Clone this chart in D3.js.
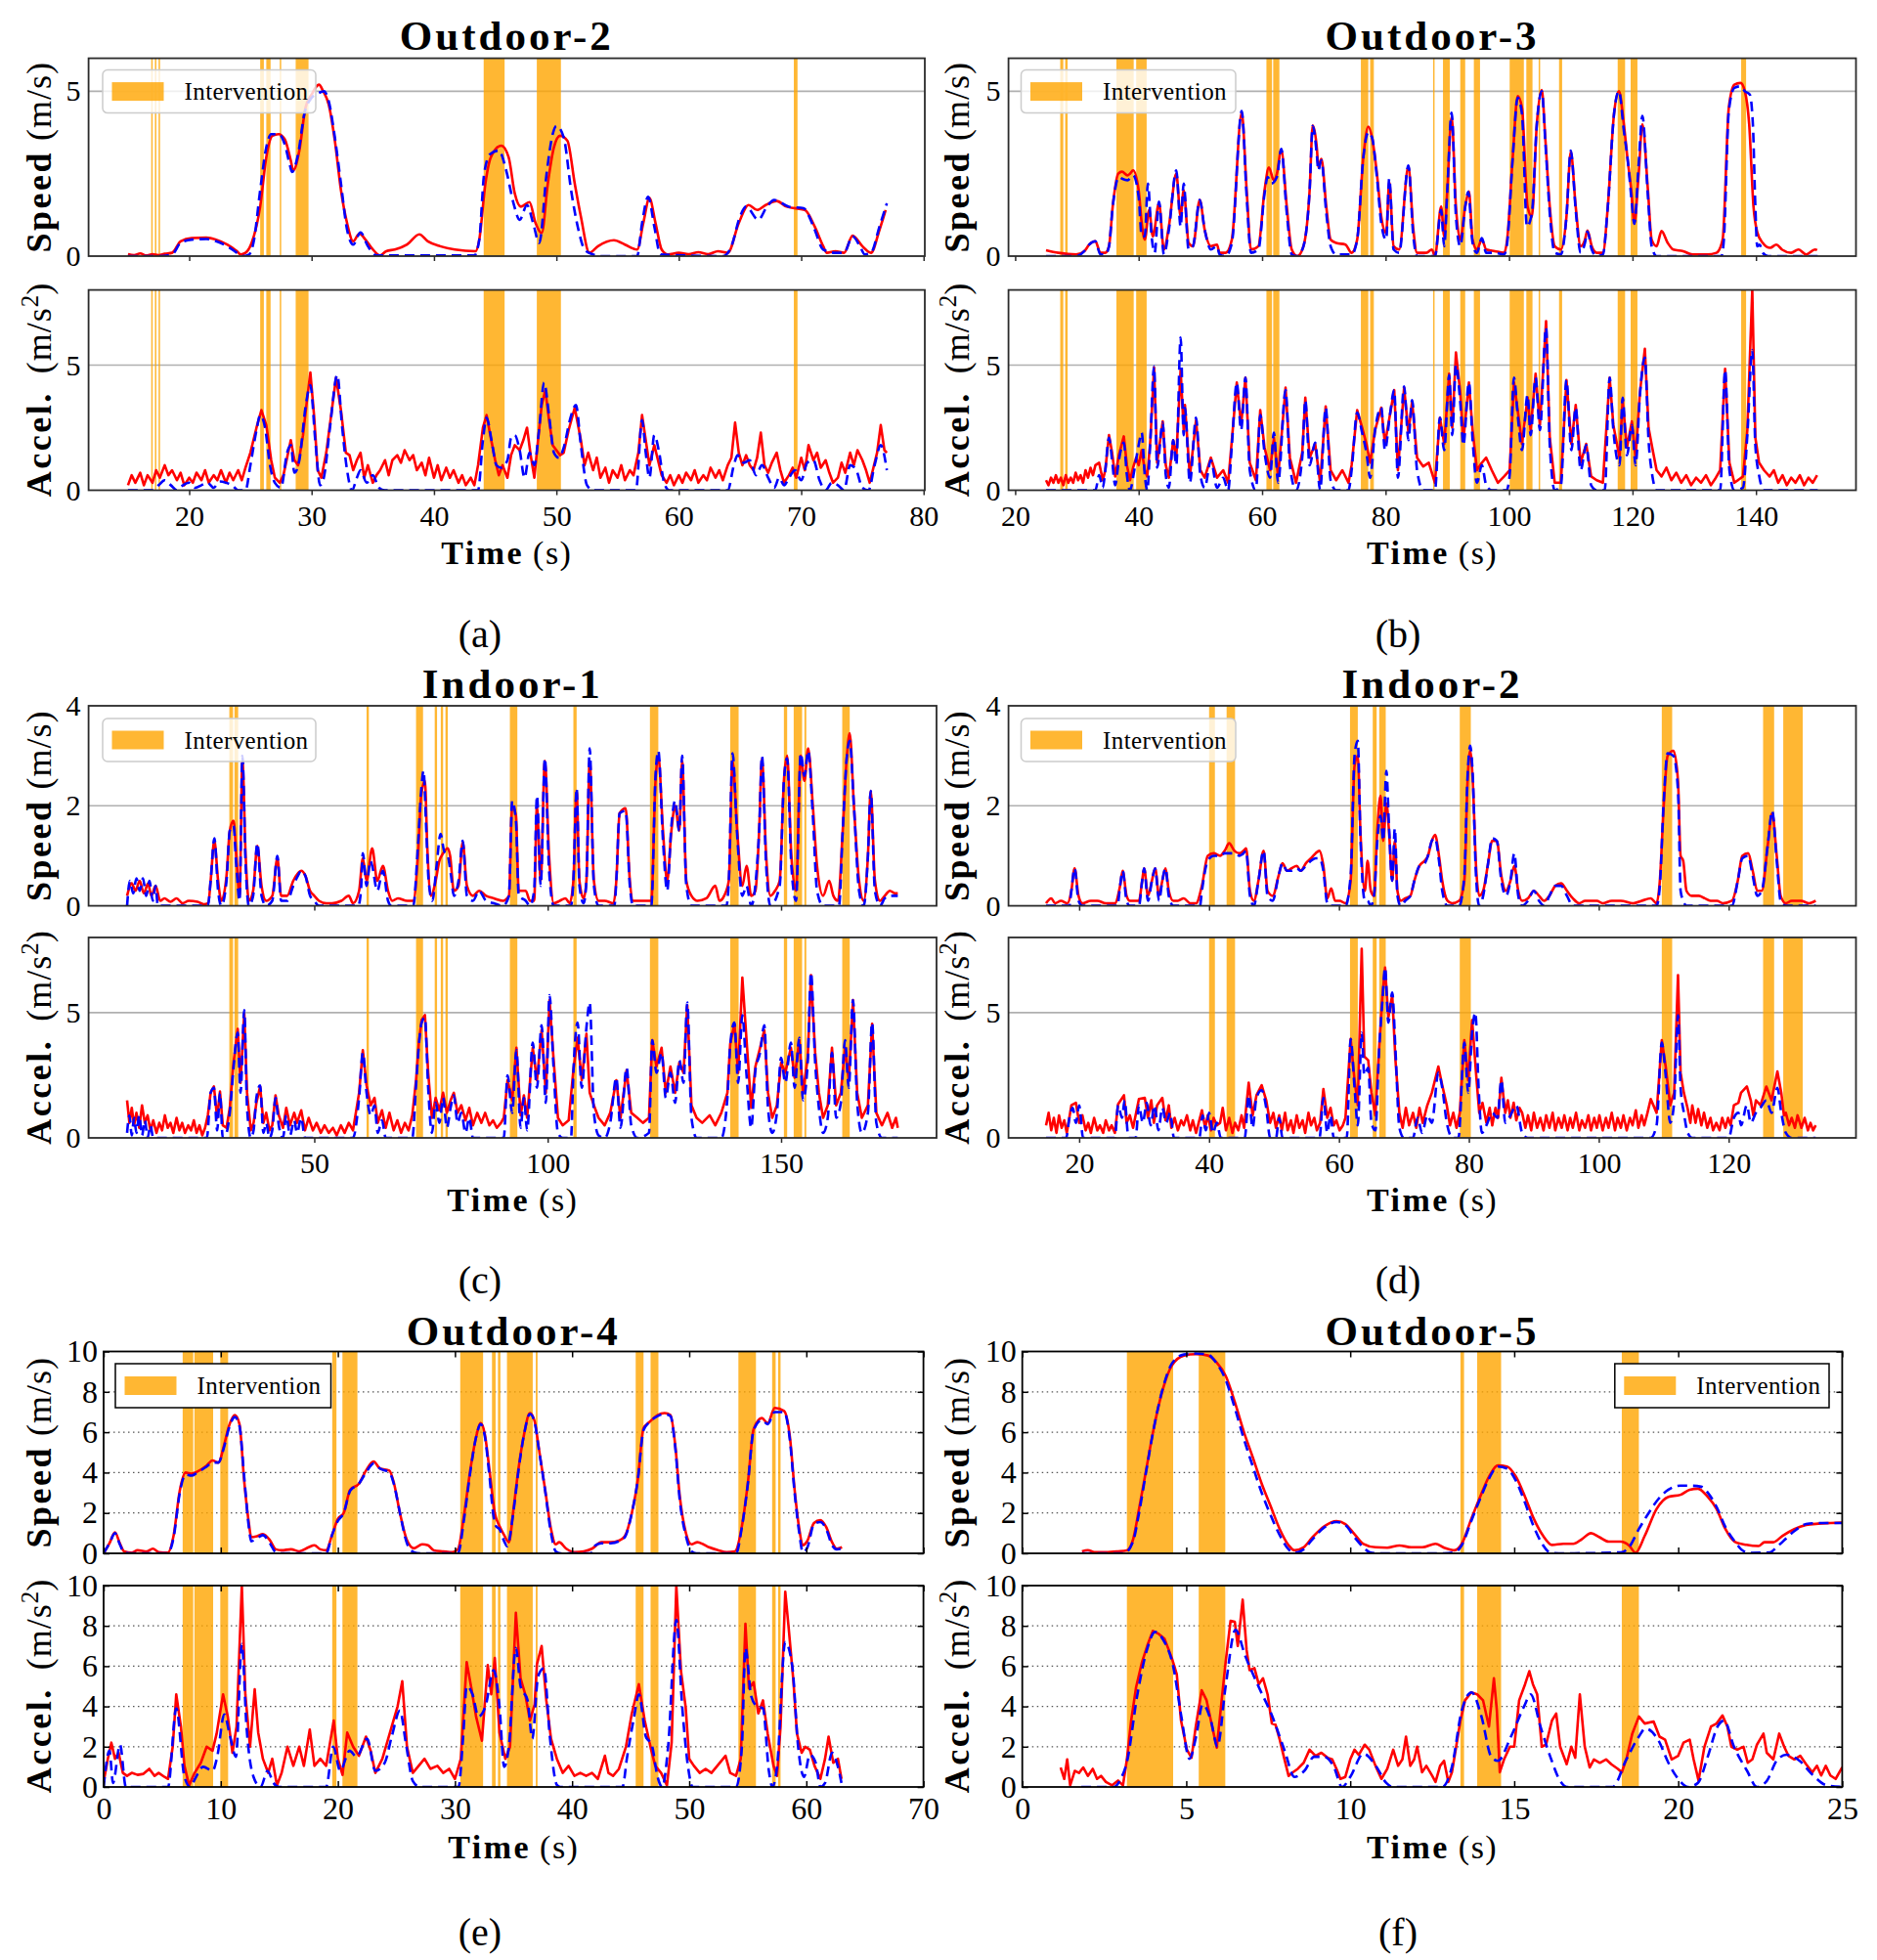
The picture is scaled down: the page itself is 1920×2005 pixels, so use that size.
<!DOCTYPE html>
<html>
<head>
<meta charset="utf-8">
<script src="https://cdn.jsdelivr.net/npm/d3@7"></script>
<style>
  body { margin: 0; background: #fff; }
</style>
</head>
<body>
<svg id="fig" width="1920" height="2005"></svg>
<script>
// ---------- data: intervention windows [start, end] in seconds ----------
const a_int = [[16.9,17.0],[17.2,17.3],[17.5,17.6],[25.8,26.1],[26.3,26.65],[27.4,27.48],[28.7,29.75],[44.06,45.77],[48.4,50.37],[69.4,69.7]];
const b_int = [[27.3,27.8],[28.1,28.5],[36.4,39.2],[39.6,41.3],[60.7,61.6],[61.8,62.8],[76.0,77.2],[77.5,78.1],[87.7,87.85],[89.3,90.4],[92.1,92.9],[94.3,95.3],[100.1,102.4],[102.8,103.8],[104.8,104.95],[108.1,108.6],[117.6,118.8],[119.7,120.8],[137.6,138.4]];
const c_int = [[31.8,32.6],[32.9,33.7],[61.2,61.7],[71.8,73.3],[75.8,76.3],[77.1,77.6],[78.1,78.6],[91.9,93.5],[105.5,106.2],[121.9,123.7],[139.1,140.9],[150.6,151.3],[152.7,154.5],[155.0,155.4],[163.1,164.7]];
const d_int = [[40.0,40.9],[42.7,44.0],[61.7,62.9],[65.2,65.8],[66.2,67.2],[78.6,80.3],[109.7,111.3],[125.3,127.0],[128.4,131.4]];
const e_int = [[6.75,7.65],[7.75,9.35],[9.96,10.63],[19.52,19.88],[20.39,21.67],[30.45,32.4],[33.16,33.47],[33.67,33.88],[34.44,36.64],[36.9,37.05],[45.43,46.1],[46.7,47.37],[54.2,55.7],[57.08,57.38],[57.59,57.8]];
const f_int = [[3.19,4.6],[5.38,6.19],[13.36,13.47],[13.87,14.6],[18.28,18.8]];

// ---------- Outdoor-2 ----------
const a_spdRed = [[15,0.06],[15.5,0.03],[16,0.08],[16.5,0.02],[17,0.06],[17.5,0.03],[18,0.07],[18.6,0.1],[19.3,0.45],[20.2,0.55],[21.4,0.56],[22.2,0.5],[23.1,0.35],[23.9,0.15],[24.2,0.05],[24.6,0.1],[25.1,0.4],[25.8,1.5],[26.3,3.0],[26.8,3.65],[27.3,3.7],[27.8,3.55],[28.3,2.9],[28.5,2.6],[29.0,3.2],[29.5,4.5],[30.0,4.9],[30.6,5.2],[30.95,5.0],[31.4,4.6],[31.9,3.5],[32.4,2.0],[32.9,1.0],[33.4,0.45],[33.9,0.68],[34.4,0.5],[34.9,0.25],[35.6,0.02],[36.1,0.15],[36.8,0.2],[37.8,0.35],[38.8,0.66],[39.5,0.45],[40.5,0.3],[41.7,0.2],[43.4,0.15],[43.7,0.5],[44.2,2.2],[44.65,3.0],[45.5,3.35],[46.1,3.0],[46.6,1.9],[47.1,1.5],[47.8,1.64],[48.3,1.0],[48.8,0.7],[49.3,2.2],[49.8,3.3],[50.3,3.65],[50.9,3.5],[51.5,2.2],[52.0,1.2],[52.7,0.1],[53.4,0.3],[54.7,0.48],[55.6,0.35],[56.6,0.2],[57.1,1.0],[57.6,1.76],[58.1,1.0],[58.6,0.2],[59.1,0.05],[60.0,0.1],[60.8,0.06],[61.6,0.12],[62.4,0.06],[63.2,0.15],[64.0,0.1],[64.9,1.0],[65.7,1.55],[66.4,1.4],[67.1,1.55],[68.0,1.67],[68.8,1.5],[70.3,1.4],[71.1,0.9],[71.8,0.3],[72.1,0.1],[72.8,0.15],[73.5,0.1],[74.2,0.62],[75.0,0.3],[75.7,0.1],[76.4,0.8],[76.9,1.4]];
const a_spdBlue = [[15,0.0],[17.5,0.0],[18.6,0.05],[19.3,0.4],[20.2,0.5],[21.4,0.52],[22.2,0.45],[23.1,0.3],[23.9,0.1],[24.3,0.0],[24.9,0.05],[25.3,0.5],[25.8,2.0],[26.3,3.3],[26.7,3.7],[27.3,3.7],[27.8,3.4],[28.2,2.8],[28.4,2.55],[28.9,3.1],[29.4,4.3],[30.0,4.8],[30.6,4.95],[31.0,5.0],[31.4,4.7],[31.9,3.6],[32.4,2.2],[32.9,0.8],[33.4,0.35],[34.0,0.72],[34.6,0.3],[35.3,0.02],[43.3,0.02],[43.7,0.5],[44.1,2.5],[44.6,3.1],[45.3,3.2],[45.9,2.6],[46.5,1.6],[47.0,1.1],[47.6,1.55],[48.1,1.0],[48.6,0.4],[49.2,2.5],[49.7,3.7],[50.0,3.95],[50.6,3.6],[51.2,2.0],[51.8,0.8],[52.3,0.2],[53.0,0.05],[53.5,0.0],[56.6,0.0],[57.0,1.0],[57.5,1.8],[58.0,0.9],[58.5,0.05],[63.6,0.0],[64.3,0.3],[65.0,1.2],[65.5,1.5],[66.5,1.1],[67.2,1.5],[67.8,1.7],[69.0,1.5],[70.2,1.45],[71.0,0.9],[71.8,0.2],[72.8,0.1],[73.5,0.1],[74.2,0.6],[74.8,0.3],[75.2,0.05],[75.7,0.1],[76.4,0.9],[77.0,1.6]];
const a_accRed = [[15.0,0.2],[15.3,0.6],[15.6,0.3],[16.0,0.7],[16.3,0.2],[16.6,0.6],[17.0,0.3],[17.3,0.8],[17.6,0.5],[18.0,1.0],[18.3,0.6],[18.6,0.8],[19.0,0.4],[19.3,0.7],[19.6,0.2],[20.0,0.5],[20.3,0.3],[20.6,0.7],[21.0,0.4],[21.3,0.8],[21.6,0.3],[22.0,0.6],[22.3,0.4],[22.6,0.8],[23.0,0.3],[23.3,0.7],[23.6,0.4],[24.0,0.8],[24.3,0.4],[24.6,0.9],[25.0,1.5],[25.5,2.5],[25.9,3.2],[26.3,2.6],[26.7,1.2],[27.0,0.5],[27.4,0.3],[27.7,0.6],[28.0,1.3],[28.3,2.0],[28.6,1.2],[28.9,1.0],[29.3,2.2],[29.6,3.5],[29.9,4.7],[30.2,3.0],[30.5,0.8],[30.8,0.5],[31.2,1.5],[31.6,3.0],[32.0,4.5],[32.4,3.2],[32.8,1.5],[33.1,1.4],[33.4,0.8],[33.7,1.2],[34.0,1.5],[34.3,0.5],[34.6,1.0],[35.0,0.3],[35.3,0.6],[35.6,0.8],[36.0,1.2],[36.3,0.6],[36.6,1.2],[37.0,1.4],[37.3,1.1],[37.6,1.6],[38.0,1.2],[38.3,1.4],[38.6,0.8],[39.0,1.1],[39.3,0.6],[39.6,1.3],[40.0,0.5],[40.3,1.0],[40.6,0.4],[41.0,0.9],[41.3,0.5],[41.6,0.8],[42.0,0.3],[42.3,0.6],[42.6,0.2],[43.0,0.5],[43.3,0.2],[43.6,1.0],[44.0,2.5],[44.3,3.0],[44.6,2.2],[45.0,1.2],[45.3,0.6],[45.6,1.0],[46.0,0.5],[46.3,1.4],[46.6,1.8],[47.0,1.6],[47.3,2.0],[47.6,2.5],[47.9,1.4],[48.2,0.5],[48.5,2.0],[48.8,3.4],[49.1,4.0],[49.4,2.8],[49.7,1.8],[50.0,1.6],[50.3,1.4],[50.6,1.5],[51.0,2.4],[51.5,3.3],[52.0,2.0],[52.3,1.0],[52.6,1.5],[53.0,0.8],[53.3,1.3],[53.6,0.5],[54.0,0.9],[54.3,0.3],[54.6,0.8],[55.0,0.5],[55.3,1.0],[55.6,0.4],[56.0,0.8],[56.3,0.6],[56.7,1.5],[57.0,3.0],[57.3,2.0],[57.6,1.0],[58.0,1.8],[58.3,1.2],[58.6,0.6],[59.0,0.3],[59.3,0.6],[59.6,0.2],[60.0,0.6],[60.3,0.3],[60.6,0.7],[61.0,0.4],[61.3,0.8],[61.6,0.3],[62.0,0.6],[62.3,0.4],[62.6,0.9],[63.0,0.5],[63.3,0.8],[63.6,0.4],[64.0,1.0],[64.3,1.3],[64.6,2.7],[64.9,1.5],[65.2,1.0],[65.5,1.4],[65.8,1.0],[66.1,0.8],[66.4,1.3],[66.7,2.3],[67.0,1.0],[67.3,0.7],[67.6,1.1],[68.0,1.5],[68.3,0.8],[68.6,0.3],[69.0,0.6],[69.3,0.9],[69.6,0.5],[70.0,1.3],[70.3,0.8],[70.6,1.8],[71.0,1.2],[71.3,1.5],[71.6,0.9],[72.0,1.2],[72.3,0.7],[72.6,0.3],[73.0,0.5],[73.3,1.1],[73.6,0.7],[74.0,1.5],[74.3,1.0],[74.6,1.6],[75.0,1.2],[75.3,0.8],[75.6,0.3],[75.9,0.9],[76.2,1.5],[76.5,2.6],[76.8,1.6],[77.0,1.5]];
const a_accBlue = [[15,0],[17,0],[17.5,0.2],[18,0.4],[18.5,0.2],[19,0.0],[19.5,0.2],[20,0.3],[20.5,0.1],[21,0.2],[21.5,0.3],[22,0.1],[22.5,0.35],[23,0.3],[23.5,0.2],[24,0.0],[24.6,0.0],[25,1.0],[25.5,2.4],[25.8,3.0],[26.2,2.5],[26.6,1.0],[27.0,0.3],[27.5,0.1],[28.0,1.5],[28.3,1.8],[28.6,0.7],[29,1.2],[29.5,3.3],[29.9,4.2],[30.3,2.0],[30.7,0.2],[31.0,0.5],[31.5,2.5],[32.1,4.6],[32.5,2.5],[32.9,0.8],[33.3,0.0],[33.7,0.5],[34.0,0.8],[34.5,0.3],[35,0.6],[35.5,0.1],[36,0.0],[43.6,0.0],[44.0,2.0],[44.3,2.9],[44.7,2.0],[45.1,1.0],[45.5,0.9],[46.0,1.2],[46.3,2.1],[46.6,2.2],[47.0,1.6],[47.4,0.5],[47.8,1.5],[48.2,1.0],[48.6,2.5],[49.0,4.3],[49.4,3.0],[49.8,1.5],[50.2,1.3],[50.6,1.7],[51.1,2.8],[51.6,3.4],[52.0,1.8],[52.5,0.2],[53.0,0.0],[56.5,0.0],[57.0,2.8],[57.3,1.5],[57.6,0.5],[58.0,2.2],[58.4,1.5],[58.8,0.3],[59.2,0.0],[64.0,0.0],[64.5,1.0],[64.8,1.4],[65.3,1.1],[65.8,1.2],[66.3,0.6],[66.8,1.0],[67.3,0.5],[67.8,0.1],[68.2,0.5],[68.6,0.2],[69.0,0.5],[69.5,0.8],[70.0,0.4],[70.5,1.1],[71.0,1.2],[71.5,0.4],[72,0.0],[72.5,0.3],[73,0.2],[73.5,0.0],[74.0,1.0],[74.5,0.8],[75,0.1],[75.5,0.0],[76.0,1.0],[76.5,1.8],[77,0.8]];

// ---------- Outdoor-3 ----------
const b_spdRed = [[25.0,0.18],[27.0,0.1],[29.9,0.05],[31.2,0.15],[32.0,0.35],[33.0,0.45],[33.8,0.1],[34.6,0.1],[35.2,0.3],[35.8,1.5],[36.7,2.5],[37.3,2.56],[38.2,2.45],[38.6,2.5],[39.1,2.6],[40.0,2.0],[40.5,1.0],[41.0,0.5],[41.7,1.4],[42.3,0.6],[43.3,1.6],[44.1,0.2],[44.9,0.9],[46.1,2.5],[46.8,1.2],[47.3,2.0],[48.1,0.4],[48.8,0.3],[49.9,1.7],[50.7,0.8],[51.7,0.3],[52.7,0.35],[53.1,0.1],[54.1,0.1],[55.1,0.5],[56.7,4.35],[57.5,2.0],[58.2,0.2],[59.4,0.3],[60.4,2.0],[61.1,2.69],[61.9,2.3],[62.4,2.5],[63.1,3.23],[64.0,1.5],[64.8,0.2],[65.7,0.0],[66.7,0.3],[67.7,2.0],[68.2,3.96],[68.9,3.2],[69.1,2.7],[69.6,2.95],[70.4,1.5],[71.1,0.5],[72.0,0.4],[73.5,0.35],[74.5,0.1],[75.4,0.5],[76.4,3.0],[77.2,3.93],[77.8,3.6],[78.6,2.5],[79.3,1.2],[80.1,0.7],[80.6,2.25],[81.3,0.3],[82.2,0.2],[83.7,2.72],[84.5,0.8],[85.1,0.1],[86.6,0.1],[87.5,0.2],[88.0,0.0],[89.0,1.5],[89.5,0.6],[90.0,2.0],[90.7,4.23],[91.4,1.5],[92.1,0.5],[92.9,1.5],[93.5,1.96],[94.1,0.5],[94.8,0.2],[95.6,0.5],[96.3,0.2],[97.7,0.15],[99.2,0.1],[99.7,0.5],[100.6,3.0],[101.4,4.85],[102.1,4.5],[103.0,1.5],[103.7,1.2],[104.5,4.0],[105.3,5.04],[105.9,3.5],[106.6,1.5],[107.4,0.3],[108.4,0.2],[109.3,1.2],[110.0,3.16],[110.8,1.5],[111.6,0.3],[112.3,0.5],[112.7,0.78],[113.4,0.3],[114.2,0.1],[115.2,0.1],[116.0,1.5],[117.0,4.3],[117.8,5.0],[118.6,4.0],[119.2,2.94],[119.8,2.0],[120.3,1.0],[121.0,2.5],[121.6,4.0],[122.5,2.0],[123.1,0.5],[123.9,0.3],[124.7,0.76],[125.7,0.4],[126.6,0.2],[128.2,0.15],[129.7,0.05],[132.1,0.05],[133.6,0.1],[134.6,0.5],[135.6,4.5],[136.5,5.2],[137.5,5.25],[138.2,5.0],[138.9,4.0],[139.6,1.5],[140.2,0.73],[141.1,0.4],[142.3,0.25],[143.3,0.35],[144.2,0.2],[145.7,0.1],[146.9,0.2],[148.1,0.05],[149.6,0.2],[149.9,0.18]];
const b_spdBlue = [[25.0,0.0],[29.9,0.0],[31.2,0.15],[32.0,0.35],[33.0,0.45],[33.8,0.05],[34.6,0.05],[35.2,0.3],[35.8,1.5],[36.8,2.4],[37.3,2.35],[38.2,2.3],[39.1,2.45],[40.0,1.8],[40.5,0.6],[41.0,0.6],[41.5,2.2],[42.1,0.6],[42.6,0.1],[43.3,1.65],[44.1,0.05],[44.9,0.8],[46.1,2.6],[46.8,0.9],[47.3,2.2],[48.1,0.2],[48.8,0.3],[49.9,1.7],[50.7,0.8],[51.7,0.2],[52.7,0.3],[53.1,0.05],[54.1,0.0],[55.1,0.4],[56.7,4.4],[57.5,1.8],[58.2,0.1],[59.4,0.2],[60.4,1.9],[60.9,2.4],[61.5,2.2],[62.4,2.4],[63.1,3.25],[64.0,1.3],[64.8,0.05],[65.7,0.0],[66.7,0.3],[67.7,2.0],[68.2,3.95],[68.9,3.0],[69.1,2.6],[69.6,2.9],[70.4,1.3],[71.1,0.3],[72.0,0.05],[73.5,0.05],[74.5,0.05],[75.4,0.5],[76.4,3.0],[77.2,3.75],[77.8,3.6],[78.6,2.4],[79.3,1.0],[80.1,0.5],[80.6,2.35],[81.3,0.2],[82.2,0.1],[83.7,2.75],[84.5,0.6],[85.1,0.0],[88.0,0.0],[89.0,1.4],[89.5,0.3],[90.0,2.0],[90.7,4.35],[91.4,1.2],[92.1,0.3],[92.9,1.5],[93.4,1.95],[94.1,0.4],[94.8,0.1],[95.6,0.55],[96.3,0.1],[97.7,0.1],[99.2,0.05],[99.7,0.4],[100.6,3.0],[101.4,4.8],[102.1,4.3],[102.9,0.9],[103.7,1.3],[104.5,4.0],[105.3,5.0],[105.9,3.4],[106.6,1.3],[107.4,0.1],[108.4,0.05],[109.3,1.2],[110.0,3.2],[110.8,1.4],[111.6,0.1],[112.3,0.4],[112.7,0.75],[113.4,0.2],[114.2,0.0],[115.2,0.05],[116.0,1.5],[117.0,4.3],[117.8,5.0],[118.6,3.8],[119.3,2.8],[119.8,1.8],[120.3,0.98],[121.0,2.8],[121.6,4.25],[122.5,1.8],[123.1,0.3],[123.9,0.0],[134.4,0.0],[134.8,0.5],[135.6,4.4],[136.5,5.1],[137.5,5.15],[138.2,5.0],[139.0,4.9],[139.5,4.0],[139.9,1.5],[140.2,0.3],[140.6,0.35],[141.1,0.1],[142.0,0.0],[150.0,0.0]];
const b_accRed = [[25.0,0.4],[25.4,0.2],[25.8,0.5],[26.2,0.3],[26.6,0.6],[27.0,0.3],[27.4,0.5],[27.8,0.2],[28.2,0.6],[28.6,0.3],[29.0,0.5],[29.4,0.3],[29.8,0.7],[30.2,0.4],[30.6,0.6],[31.0,0.3],[31.4,0.8],[31.8,0.5],[32.2,0.9],[32.6,0.6],[33.0,1.0],[33.6,1.1],[34.2,0.4],[34.6,0.8],[35.2,2.2],[35.7,1.5],[36.2,0.55],[36.8,1.4],[37.6,2.15],[38.1,1.0],[38.6,0.4],[39.1,0.9],[39.6,1.3],[40.0,1.0],[40.5,1.6],[41.0,0.8],[41.4,0.55],[41.9,2.0],[42.5,4.9],[43.0,1.1],[43.9,2.75],[44.4,1.0],[44.9,0.5],[45.6,2.0],[46.1,1.3],[46.8,4.8],[47.3,2.4],[47.5,3.4],[48.3,0.55],[49.3,2.8],[50.0,0.8],[50.7,0.5],[51.7,1.3],[52.7,0.5],[53.7,0.8],[54.5,0.3],[55.1,2.0],[55.9,4.3],[56.6,2.6],[57.3,4.5],[58.0,1.1],[59.0,0.4],[59.7,3.2],[60.4,1.7],[61.3,0.8],[61.9,2.1],[62.6,0.55],[63.8,4.1],[64.5,1.3],[65.5,0.3],[66.5,1.5],[67.0,3.7],[67.7,1.3],[68.6,1.85],[69.4,0.3],[70.3,3.35],[71.1,0.8],[72.0,0.4],[73.0,0.8],[74.0,0.3],[74.5,1.0],[75.4,3.2],[76.2,2.5],[76.9,1.85],[77.5,1.1],[78.3,2.4],[79.3,3.3],[79.9,1.85],[80.7,3.0],[81.4,4.0],[82.0,0.8],[83.0,4.1],[83.7,2.3],[84.3,3.55],[85.1,1.3],[86.1,0.95],[87.0,1.1],[88.0,0.3],[88.8,2.9],[89.5,1.85],[90.3,4.65],[90.8,2.5],[91.4,5.5],[92.1,3.9],[92.6,2.0],[93.5,4.3],[94.1,2.4],[94.8,0.8],[95.6,1.1],[96.3,1.3],[97.2,0.8],[98.2,0.3],[99.2,0.55],[100.1,0.8],[100.8,4.3],[101.4,3.2],[102.1,1.85],[103.0,3.7],[103.5,2.4],[104.3,4.65],[105.0,2.6],[106.0,6.75],[106.6,2.1],[107.4,0.3],[108.4,0.3],[109.3,4.4],[110.1,1.85],[110.8,3.4],[111.6,1.1],[112.5,1.85],[113.3,0.55],[114.2,0.4],[115.2,0.3],[116.3,4.5],[116.9,2.6],[117.9,1.3],[118.4,3.6],[119.1,1.7],[119.9,2.75],[120.5,1.3],[121.2,3.9],[122.0,5.65],[122.6,2.5],[123.2,1.7],[123.9,0.8],[124.7,0.55],[125.5,0.9],[126.3,0.4],[127.1,0.7],[127.9,0.3],[128.7,0.6],[129.5,0.2],[130.3,0.5],[131.1,0.3],[131.9,0.6],[132.7,0.2],[133.5,0.5],[134.2,0.8],[135.0,4.85],[135.7,1.1],[136.5,0.3],[137.9,0.55],[138.6,2.4],[139.4,8.0],[139.9,2.1],[140.5,1.1],[141.3,0.8],[142.2,0.55],[142.9,0.8],[143.6,0.3],[144.3,0.6],[145.0,0.2],[145.7,0.5],[146.4,0.3],[147.1,0.6],[147.8,0.2],[148.5,0.5],[149.2,0.3],[149.9,0.6]];
const b_accBlue = [[25.0,0.0],[33.0,0.0],[33.6,0.6],[34.2,0.1],[34.6,0.8],[35.2,2.1],[35.7,1.2],[36.2,0.2],[36.8,1.2],[37.6,1.9],[38.1,0.6],[38.6,0.0],[39.3,0.8],[40.0,1.8],[40.5,2.3],[41.0,0.6],[41.4,0.0],[41.9,2.0],[42.5,4.95],[43.0,0.9],[43.9,2.7],[44.4,0.6],[44.9,0.1],[45.6,2.0],[46.1,1.0],[46.8,6.1],[47.3,2.2],[47.5,3.3],[48.3,0.3],[49.3,2.9],[50.0,0.6],[50.7,0.1],[51.7,1.2],[52.7,0.1],[53.7,0.5],[54.5,0.0],[55.1,1.8],[55.9,4.3],[56.6,2.4],[57.3,4.5],[58.0,0.8],[59.0,0.0],[59.7,3.0],[60.4,1.5],[61.3,0.5],[61.9,2.3],[62.6,0.3],[63.8,4.0],[64.5,1.0],[65.5,0.0],[66.5,1.3],[67.0,3.6],[67.7,1.0],[68.6,1.9],[69.4,0.0],[70.3,3.3],[71.1,0.4],[72.0,0.0],[74.0,0.0],[74.5,0.8],[75.4,3.1],[76.2,2.3],[76.9,1.5],[77.5,0.5],[78.3,2.4],[79.3,3.3],[79.9,1.6],[80.7,3.0],[81.4,4.0],[82.0,0.5],[83.0,4.15],[83.7,2.0],[84.3,3.6],[85.1,0.8],[86.1,0.0],[88.0,0.0],[88.8,2.9],[89.5,1.6],[90.3,4.6],[90.8,2.2],[91.4,5.0],[92.1,3.5],[92.6,1.8],[93.5,4.3],[94.1,2.0],[94.8,0.3],[95.6,1.0],[96.3,0.2],[97.2,0.0],[99.6,0.0],[100.1,0.6],[100.8,4.5],[101.4,3.0],[102.1,1.6],[103.0,3.8],[103.5,2.2],[104.3,4.5],[105.0,2.4],[106.0,6.5],[106.6,1.8],[107.4,0.0],[108.4,0.2],[109.3,4.4],[110.1,1.6],[110.8,3.3],[111.6,0.8],[112.5,1.8],[113.3,0.2],[114.2,0.0],[115.5,0.0],[116.3,4.5],[116.9,2.4],[117.9,1.0],[118.4,3.7],[119.1,1.4],[119.9,2.6],[120.5,1.0],[121.2,3.8],[122.0,5.3],[122.6,2.0],[123.2,0.6],[123.9,0.0],[134.2,0.0],[135.0,4.8],[135.7,0.8],[136.5,0.0],[137.9,0.1],[138.6,2.2],[139.4,5.6],[139.9,1.8],[140.5,0.6],[141.3,0.0],[150.0,0.0]];

// ---------- Indoor-1 ----------
const c_spdRed = [[9.9,0.2],[10.9,0.45],[11.7,0.3],[12.6,0.5],[13.5,0.25],[14.4,0.45],[15.1,0.2],[16.0,0.4],[17.0,0.1],[17.9,0.15],[19.2,0.08],[20.5,0.15],[21.8,0.05],[23.1,0.1],[25.0,0.08],[26.3,0.03],[27.3,0.05],[27.8,0.5],[28.6,1.3],[29.4,0.5],[30.1,0.1],[31.2,0.6],[31.9,1.5],[32.7,1.7],[33.3,1.0],[34.0,0.2],[34.6,2.9],[35.3,1.0],[36.0,0.1],[36.9,0.3],[37.8,1.2],[38.7,0.4],[39.7,0.1],[41.0,0.2],[42.1,0.95],[42.9,0.2],[44.2,0.2],[45.5,0.5],[47.2,0.7],[48.1,0.6],[49.1,0.3],[50.0,0.2],[51.0,0.1],[52.6,0.05],[53.8,0.05],[55.8,0.1],[57.4,0.2],[58.3,0.05],[59.6,0.3],[60.4,0.95],[61.2,0.5],[62.4,1.15],[63.5,0.5],[64.7,0.8],[65.8,0.3],[66.7,0.1],[67.9,0.15],[69.9,0.1],[71.2,0.1],[72.2,1.0],[72.9,2.2],[73.7,2.5],[74.2,1.2],[75.0,0.2],[76.0,0.5],[76.8,0.9],[77.6,1.05],[78.6,1.15],[79.1,1.0],[79.9,0.3],[80.9,0.4],[81.8,1.27],[82.7,0.4],[84.0,0.2],[85.3,0.3],[86.8,0.2],[88.5,0.15],[90.4,0.1],[91.7,0.2],[92.4,2.0],[93.2,1.8],[93.8,0.3],[95.3,0.3],[96.2,0.1],[97.1,0.1],[97.7,2.0],[98.5,0.5],[99.4,2.9],[100.3,1.0],[101.3,0.05],[102.6,0.1],[103.8,0.15],[104.7,0.05],[105.5,0.5],[106.2,2.3],[106.8,0.5],[107.7,0.15],[108.3,0.5],[109.0,2.9],[109.9,0.5],[110.9,0.1],[112.2,0.1],[114.1,0.05],[114.7,0.5],[115.4,1.85],[116.7,1.95],[117.6,0.5],[118.3,0.1],[119.9,0.1],[121.2,0.1],[122.2,0.1],[123.1,2.5],[123.7,3.0],[124.7,1.5],[125.6,0.5],[126.5,1.5],[127.3,2.0],[128.2,1.5],[128.8,2.9],[129.7,0.5],[130.8,0.2],[132.1,0.1],[134.0,0.15],[135.9,0.4],[136.8,0.1],[137.8,0.2],[138.8,0.5],[139.6,2.9],[140.6,1.5],[141.7,0.4],[142.6,0.8],[143.6,0.2],[144.5,0.3],[145.3,1.5],[145.9,2.95],[146.8,1.0],[147.7,0.2],[148.7,0.3],[149.7,0.5],[150.6,2.5],[151.3,3.0],[152.2,1.0],[153.2,0.3],[154.2,3.0],[155.0,2.5],[155.8,3.15],[156.8,2.0],[157.7,0.8],[159.0,0.2],[160.3,0.5],[161.2,0.2],[162.2,0.1],[163.2,1.5],[164.1,3.0],[164.7,3.45],[165.6,2.0],[166.7,0.5],[167.7,0.1],[168.6,1.0],[169.2,2.3],[170.1,0.5],[171.2,0.1],[172.2,0.2],[173.3,0.3],[174.4,0.25],[175.0,0.25]];
const c_spdBlue = [[9.9,0.0],[10.5,0.5],[11.2,0.25],[11.9,0.55],[12.6,0.3],[13.3,0.55],[14.0,0.2],[14.7,0.5],[15.4,0.1],[16.0,0.4],[16.5,0.0],[27.2,0.0],[27.8,0.5],[28.6,1.35],[29.4,0.3],[30.1,0.0],[31.2,0.5],[31.9,1.5],[32.7,1.6],[33.3,0.8],[34.0,0.1],[34.6,3.0],[35.3,0.8],[36.0,0.0],[36.9,0.2],[37.8,1.25],[38.7,0.2],[39.7,0.0],[41.0,0.1],[42.1,1.0],[42.9,0.1],[44.2,0.1],[45.5,0.4],[46.5,0.6],[47.2,0.7],[48.1,0.6],[49.1,0.2],[50.0,0.1],[51.0,0.0],[59.4,0.0],[60.0,0.3],[60.4,1.05],[61.2,0.4],[62.0,0.9],[62.4,0.8],[63.5,0.3],[64.7,0.7],[65.8,0.1],[66.5,0.0],[71.2,0.0],[72.2,1.2],[72.9,2.3],[73.4,2.7],[74.0,1.5],[74.5,0.5],[75.3,0.1],[76.2,0.8],[77.05,1.44],[77.8,1.1],[78.6,1.0],[79.3,0.6],[79.9,0.2],[80.9,0.5],[81.8,1.3],[82.7,0.2],[84.0,0.1],[85.3,0.3],[86.8,0.1],[88.5,0.05],[90.4,0.0],[91.7,0.2],[92.4,2.1],[93.2,1.7],[93.8,0.2],[95.3,0.1],[96.2,0.0],[97.1,0.3],[97.7,2.2],[98.5,0.4],[99.4,2.95],[100.3,0.7],[101.3,0.0],[105.0,0.0],[105.5,0.5],[106.2,2.35],[106.8,0.4],[107.7,0.05],[108.3,0.5],[109.0,3.15],[109.9,0.4],[110.9,0.0],[114.3,0.0],[114.7,0.5],[115.4,1.85],[116.7,1.9],[117.6,0.4],[118.3,0.0],[122.2,0.0],[123.1,2.6],[123.7,3.1],[124.7,1.3],[125.6,0.3],[126.5,1.6],[127.3,2.1],[128.2,1.5],[128.8,3.0],[129.7,0.4],[130.8,0.0],[138.3,0.0],[138.8,0.5],[139.6,3.05],[140.6,1.4],[141.7,0.2],[142.6,0.4],[143.6,0.0],[145.3,1.5],[145.9,3.0],[146.8,0.8],[147.7,0.0],[149.7,0.4],[150.6,2.5],[151.3,2.95],[152.2,0.8],[153.2,0.1],[154.2,3.05],[155.0,2.6],[155.8,3.1],[156.8,1.8],[157.7,0.3],[159.0,0.0],[162.4,0.0],[163.2,1.5],[164.1,3.0],[164.7,3.3],[165.6,2.0],[166.7,0.3],[167.7,0.0],[168.6,1.0],[169.2,2.3],[170.1,0.3],[171.2,0.0],[172.2,0.15],[173.3,0.2],[174.4,0.2],[175.0,0.2]];
const c_accRed = [[9.9,1.5],[10.4,0.6],[10.9,1.2],[11.4,0.5],[11.9,1.0],[12.5,0.4],[13.1,1.3],[13.7,0.6],[14.3,0.9],[14.9,0.3],[15.5,0.7],[16.2,0.2],[16.8,0.6],[17.4,0.3],[18.0,0.9],[18.6,0.4],[19.2,0.6],[19.8,0.2],[20.5,0.8],[21.1,0.3],[21.7,0.6],[22.3,0.2],[23.0,0.5],[23.6,0.3],[24.2,0.7],[24.8,0.2],[25.4,0.5],[26.0,0.1],[26.6,0.4],[27.2,0.9],[27.8,1.8],[28.5,2.05],[29.2,0.8],[29.8,1.85],[30.4,0.5],[31.2,0.4],[31.9,1.2],[32.7,3.0],[33.6,4.35],[34.2,2.2],[35.0,4.95],[35.6,1.8],[36.4,0.3],[37.0,0.6],[37.6,1.4],[38.4,2.05],[39.1,0.6],[39.7,1.0],[40.4,0.3],[41.0,0.5],[41.7,1.7],[42.4,0.9],[43.3,0.4],[44.0,1.2],[44.8,0.5],[45.7,1.0],[46.3,0.6],[47.2,1.1],[48.0,0.3],[48.8,0.8],[49.7,0.3],[50.5,0.6],[51.4,0.2],[52.2,0.5],[53.1,0.2],[54.0,0.4],[54.8,0.1],[55.7,0.5],[56.5,0.2],[57.4,0.6],[58.3,0.3],[59.6,1.8],[60.4,3.5],[61.2,2.1],[62.1,1.3],[62.9,1.6],[63.6,0.6],[64.5,1.1],[65.3,0.4],[66.1,1.0],[67.0,0.3],[67.8,0.7],[68.6,0.2],[69.4,0.6],[70.2,0.3],[71.0,0.9],[71.8,2.3],[72.4,3.8],[73.0,4.7],[73.7,4.9],[74.4,2.6],[75.2,0.8],[76.0,1.6],[76.8,1.1],[77.6,1.8],[78.4,1.0],[79.2,1.5],[79.9,1.8],[80.7,1.0],[81.5,1.3],[82.4,0.7],[83.2,1.2],[84.0,0.5],[84.9,1.0],[85.8,0.6],[86.6,1.0],[87.5,0.5],[88.3,0.7],[89.1,0.4],[90.0,0.6],[90.6,0.8],[91.4,2.3],[92.4,1.5],[93.3,3.6],[94.2,0.9],[94.9,1.7],[95.6,0.8],[96.8,3.6],[97.7,2.3],[98.7,4.3],[99.6,1.8],[100.4,5.5],[101.2,3.3],[102.2,0.8],[103.2,0.5],[104.5,0.7],[105.5,2.7],[106.4,4.0],[107.3,2.3],[108.3,4.15],[109.0,1.8],[109.9,1.3],[110.9,0.8],[112.2,0.5],[113.4,1.0],[114.7,2.3],[115.6,0.8],[116.9,2.7],[117.9,1.0],[119.2,0.8],[120.4,0.6],[121.7,0.8],[122.4,3.9],[123.3,2.85],[124.4,3.6],[125.3,1.8],[126.3,2.85],[127.3,1.8],[128.2,3.0],[129.1,2.6],[129.9,5.3],[130.8,1.3],[131.9,0.8],[133.1,0.6],[134.7,0.9],[135.9,0.5],[137.2,1.0],[138.5,1.8],[139.1,3.75],[140.0,4.55],[140.8,2.6],[141.7,6.4],[142.6,3.9],[143.6,1.2],[144.5,2.85],[145.5,3.6],[146.4,4.3],[147.2,1.8],[148.1,0.8],[149.1,1.3],[150.0,3.0],[150.9,2.6],[152.1,3.6],[152.9,2.4],[153.9,3.9],[154.7,1.8],[155.7,3.2],[156.4,6.5],[157.3,3.4],[158.1,1.8],[159.0,0.8],[160.0,1.3],[160.9,3.6],[161.8,1.3],[162.8,1.8],[163.7,3.6],[164.5,2.3],[165.4,5.5],[166.3,1.8],[167.3,0.8],[168.6,1.3],[169.5,4.55],[170.4,1.0],[171.6,0.5],[172.8,1.0],[173.8,0.4],[174.6,0.8],[175.0,0.4]];
const c_accBlue = [[9.9,0.2],[10.4,0.9],[10.9,0.1],[11.4,0.8],[11.9,0.2],[12.5,0.9],[13.1,0.1],[13.7,0.7],[14.3,0.0],[14.9,0.5],[15.5,0.0],[27.0,0.0],[27.8,1.8],[28.5,2.0],[29.2,0.3],[29.8,1.8],[30.4,0.0],[31.2,0.2],[31.9,1.0],[32.7,2.8],[33.6,4.2],[34.2,1.8],[35.0,5.1],[35.6,1.2],[36.4,0.0],[37.0,0.3],[37.6,1.6],[38.4,2.1],[39.1,0.2],[39.7,0.6],[40.4,0.0],[41.0,0.3],[41.7,1.6],[42.4,0.5],[43.3,0.0],[44.0,0.9],[44.8,0.1],[45.7,0.7],[46.3,0.2],[47.2,0.8],[48.0,0.0],[58.3,0.0],[59.6,1.6],[60.4,3.4],[61.2,1.8],[62.1,0.9],[62.9,1.3],[63.6,0.2],[64.5,0.7],[65.3,0.0],[71.0,0.0],[71.8,2.1],[72.4,3.7],[73.0,4.6],[73.7,4.8],[74.4,2.0],[75.2,0.2],[76.0,1.4],[76.8,0.6],[77.6,1.6],[78.4,0.4],[79.2,1.2],[79.9,1.7],[80.7,0.6],[81.5,1.0],[82.4,0.2],[83.2,0.8],[84.0,0.0],[90.6,0.0],[91.4,2.5],[92.4,1.0],[93.3,3.5],[94.2,0.4],[94.9,1.6],[95.6,0.3],[96.8,3.8],[97.7,2.0],[98.7,4.5],[99.6,1.4],[100.4,5.7],[101.2,3.0],[102.2,0.2],[103.2,0.0],[105.0,0.0],[105.5,2.6],[106.4,4.6],[107.3,2.0],[108.3,4.4],[109.0,5.4],[109.9,1.0],[110.9,0.1],[112.2,0.0],[113.4,0.6],[114.7,2.4],[115.6,0.4],[116.9,2.8],[117.9,0.5],[119.2,0.0],[121.7,0.2],[122.4,3.9],[123.3,2.6],[124.4,3.4],[125.3,1.6],[126.3,2.6],[127.3,1.4],[128.2,3.1],[129.1,2.2],[129.9,5.4],[130.8,0.8],[131.9,0.0],[137.2,0.0],[138.5,1.6],[139.1,3.7],[140.0,4.6],[140.8,2.2],[141.7,4.9],[142.6,2.5],[143.6,0.4],[144.5,2.7],[145.5,3.4],[146.4,4.5],[147.2,1.2],[148.1,0.2],[149.1,1.0],[150.0,3.2],[150.9,2.2],[152.1,3.8],[152.9,2.0],[153.9,4.0],[154.7,1.5],[155.7,3.0],[156.4,6.6],[157.3,3.0],[158.1,1.2],[159.0,0.2],[160.0,0.8],[160.9,3.4],[161.8,0.8],[162.8,1.4],[163.7,3.9],[164.5,2.0],[165.4,5.5],[166.3,1.4],[167.3,0.2],[168.6,1.0],[169.5,4.6],[170.4,0.6],[171.6,0.0],[175.0,0.0]];

// ---------- Indoor-2 ----------
const d_spdRed = [[14.9,0.05],[15.7,0.15],[16.3,0.05],[17.2,0.1],[18.2,0.05],[18.8,0.3],[19.3,0.75],[19.9,0.2],[20.5,0.05],[21.8,0.1],[22.8,0.1],[24.1,0.05],[25.5,0.05],[26.3,0.4],[26.7,0.7],[27.3,0.2],[27.8,0.1],[29.2,0.1],[29.7,0.5],[30.0,0.75],[30.6,0.2],[31.2,0.5],[31.7,0.75],[32.3,0.2],[32.8,0.5],[33.3,0.75],[33.8,0.3],[34.5,0.1],[35.2,0.1],[36.1,0.15],[37.1,0.05],[38.0,0.05],[38.9,0.4],[39.8,1.0],[40.7,1.05],[41.7,1.0],[42.4,1.1],[43.1,1.25],[43.9,1.1],[44.7,1.05],[45.3,1.1],[45.7,1.15],[46.3,0.3],[46.9,0.1],[47.6,0.5],[48.4,1.1],[49.0,0.3],[49.8,0.2],[50.7,0.6],[51.3,0.85],[52.0,0.7],[52.7,0.75],[53.5,0.8],[54.1,0.7],[54.9,0.85],[55.7,0.95],[56.4,1.05],[57.0,1.1],[57.6,0.8],[58.2,0.15],[58.8,0.35],[59.4,0.1],[60.1,0.1],[61.0,0.05],[61.8,0.5],[62.4,2.8],[62.9,3.0],[63.3,1.5],[64.0,0.3],[64.4,0.9],[64.9,0.3],[65.4,0.2],[65.9,1.5],[66.4,2.2],[66.8,1.3],[67.3,2.05],[67.7,1.5],[68.2,0.5],[68.6,1.3],[69.0,0.3],[69.5,0.1],[70.2,0.15],[71.0,0.2],[71.6,0.5],[72.4,0.8],[73.2,0.9],[73.7,1.0],[74.3,1.3],[74.8,1.42],[75.4,1.0],[75.9,0.5],[76.7,0.1],[77.4,0.05],[78.5,0.1],[79.3,0.5],[79.8,2.5],[80.2,3.1],[80.6,2.5],[81.1,0.8],[81.6,0.2],[82.2,0.3],[82.9,0.8],[83.6,1.3],[84.3,1.3],[85.0,0.6],[85.7,0.3],[86.4,0.5],[87.0,0.8],[87.6,0.3],[88.2,0.1],[89.1,0.15],[90.0,0.3],[90.8,0.2],[91.6,0.1],[92.4,0.2],[93.3,0.4],[94.2,0.45],[95.1,0.3],[96.0,0.15],[97.0,0.05],[97.9,0.1],[98.8,0.1],[99.7,0.1],[100.6,0.05],[102.0,0.1],[103.4,0.1],[105.3,0.05],[106.6,0.1],[108.0,0.15],[108.9,0.05],[109.4,0.5],[110.0,2.0],[110.6,3.0],[111.5,3.1],[112.2,2.5],[112.6,1.0],[113.0,0.9],[113.5,0.3],[114.3,0.2],[115.4,0.2],[116.3,0.15],[117.2,0.1],[118.2,0.1],[119.1,0.05],[120.5,0.1],[121.4,0.5],[122.1,1.0],[123.0,1.05],[123.7,0.7],[124.4,0.3],[125.1,0.3],[126.0,1.2],[126.7,1.85],[127.4,1.0],[128.0,0.2],[128.8,0.05],[129.7,0.1],[131.1,0.1],[132.4,0.05],[133.4,0.1]];
const d_spdBlue = [[14.9,0.0],[18.5,0.0],[18.8,0.3],[19.3,0.75],[19.9,0.1],[20.5,0.0],[25.9,0.0],[26.3,0.4],[26.7,0.7],[27.3,0.1],[27.8,0.0],[29.2,0.0],[29.7,0.5],[30.0,0.75],[30.6,0.1],[31.2,0.5],[31.7,0.75],[32.3,0.1],[32.8,0.5],[33.3,0.75],[33.8,0.2],[34.5,0.0],[38.6,0.0],[38.9,0.3],[39.8,0.9],[40.7,1.0],[41.7,1.0],[42.4,1.05],[43.1,1.05],[43.9,1.05],[44.7,1.0],[45.3,1.05],[45.7,1.1],[46.3,0.2],[46.9,0.0],[47.6,0.5],[48.4,1.1],[49.0,0.2],[49.8,0.1],[50.7,0.6],[51.3,0.85],[52.0,0.7],[52.7,0.7],[53.5,0.75],[54.1,0.7],[54.9,0.8],[55.7,0.9],[56.4,0.95],[57.0,0.95],[57.6,0.7],[58.2,0.05],[58.8,0.0],[61.0,0.0],[61.8,0.6],[62.4,3.0],[62.9,3.3],[63.3,1.4],[64.0,0.1],[64.4,0.1],[64.9,0.0],[65.4,0.2],[65.9,1.3],[66.4,1.8],[66.8,1.3],[67.3,2.7],[67.7,1.6],[68.2,0.5],[68.6,1.55],[69.0,0.2],[69.5,0.0],[70.2,0.1],[71.0,0.2],[71.6,0.5],[72.4,0.8],[73.2,0.85],[73.7,1.0],[74.3,1.3],[74.8,1.35],[75.4,0.9],[75.9,0.3],[76.7,0.0],[78.5,0.0],[79.3,0.6],[79.8,2.6],[80.2,3.2],[80.6,2.6],[81.1,0.6],[81.6,0.0],[82.2,0.2],[82.9,0.8],[83.6,1.35],[84.3,1.3],[85.0,0.5],[85.7,0.2],[86.4,0.5],[87.0,1.05],[87.6,0.2],[88.2,0.0],[89.1,0.1],[90.0,0.3],[90.8,0.1],[91.6,0.0],[92.4,0.2],[93.3,0.4],[94.2,0.4],[95.1,0.2],[96.0,0.0],[108.9,0.0],[109.4,0.4],[110.0,2.1],[110.6,3.05],[111.5,3.0],[112.2,2.3],[112.6,0.3],[113.0,0.1],[113.5,0.0],[120.5,0.0],[121.4,0.5],[122.1,0.95],[123.0,1.0],[123.7,0.6],[124.4,0.2],[125.1,0.3],[126.0,1.2],[126.7,1.9],[127.4,0.9],[128.0,0.1],[128.8,0.0],[133.4,0.0]];
const d_accRed = [[14.9,0.5],[15.3,1.0],[15.7,0.3],[16.1,0.8],[16.5,0.2],[16.9,0.9],[17.3,0.4],[17.7,0.7],[18.1,0.2],[18.8,1.3],[19.5,1.4],[20.0,0.6],[20.5,0.9],[21.0,0.3],[21.4,0.6],[21.8,0.2],[22.3,0.8],[22.8,0.3],[23.2,0.5],[23.7,0.2],[24.1,0.7],[24.6,0.3],[25.0,0.5],[25.5,0.2],[26.0,1.35],[26.9,1.7],[27.3,0.6],[27.8,0.9],[28.3,0.4],[29.2,1.55],[30.1,1.6],[30.6,0.8],[31.1,1.5],[31.5,0.6],[32.0,1.3],[32.8,1.6],[33.3,0.7],[33.8,1.3],[34.2,0.4],[34.7,0.8],[35.2,0.3],[35.7,0.7],[36.1,0.5],[36.6,0.9],[37.1,0.3],[37.5,0.7],[38.0,0.2],[38.4,0.6],[38.9,1.1],[39.4,0.4],[39.8,0.9],[40.3,0.3],[40.7,0.8],[41.2,0.5],[41.7,0.6],[42.1,1.2],[42.6,0.3],[43.1,0.8],[43.6,0.2],[44.0,0.6],[44.5,0.3],[45.0,0.9],[45.4,0.4],[46.1,2.2],[46.7,0.9],[47.3,1.7],[48.1,2.1],[48.8,1.5],[49.4,0.6],[49.9,1.0],[50.3,0.4],[50.8,0.9],[51.2,0.3],[51.7,1.0],[52.1,0.3],[52.6,0.7],[53.0,0.2],[53.5,0.9],[53.9,0.4],[54.4,0.7],[54.8,0.2],[55.3,1.0],[55.7,0.5],[56.2,0.8],[56.6,0.3],[57.1,0.6],[57.6,1.95],[58.2,0.8],[58.7,1.2],[59.2,0.5],[59.6,0.7],[60.1,0.3],[60.6,0.5],[61.0,0.8],[61.8,3.95],[62.4,2.3],[62.9,1.3],[63.5,7.55],[63.9,3.25],[64.5,3.1],[65.0,1.8],[65.6,0.9],[66.2,3.65],[66.7,5.7],[67.1,6.8],[67.6,4.8],[68.2,5.7],[68.7,3.1],[69.3,1.0],[69.8,0.4],[70.3,1.2],[70.8,0.5],[71.4,1.0],[71.9,0.4],[72.4,1.2],[72.9,0.6],[73.6,1.3],[74.3,1.8],[75.3,2.85],[75.9,2.1],[76.6,1.3],[77.1,0.5],[77.6,1.0],[78.1,0.4],[78.6,1.0],[79.3,3.9],[79.9,2.3],[80.5,4.7],[81.1,2.6],[81.6,1.0],[82.1,1.4],[82.7,0.6],[83.2,1.2],[83.6,0.5],[84.1,1.2],[84.5,0.8],[85.0,2.4],[85.6,1.0],[86.0,1.5],[86.4,0.8],[86.9,1.4],[87.3,0.7],[87.8,1.2],[88.2,1.0],[88.7,0.4],[89.1,0.9],[89.6,0.3],[90.0,1.0],[90.5,0.4],[91.0,0.8],[91.5,0.3],[91.9,0.9],[92.4,0.4],[92.9,1.0],[93.3,0.3],[93.8,0.8],[94.3,0.4],[94.7,0.9],[95.2,0.3],[95.6,0.8],[96.0,0.4],[96.5,1.0],[97.0,0.3],[97.4,0.7],[97.9,0.4],[98.4,0.9],[98.8,0.3],[99.3,0.8],[99.7,0.4],[100.1,0.9],[100.6,0.3],[101.1,0.8],[101.5,0.4],[102.0,1.0],[102.5,0.3],[102.9,0.8],[103.4,0.4],[103.8,0.9],[104.3,0.3],[104.8,0.8],[105.2,0.5],[105.7,1.1],[106.1,0.4],[106.6,0.9],[107.0,0.5],[107.5,1.0],[108.0,1.55],[108.9,1.0],[109.7,3.9],[110.3,2.85],[111.0,1.3],[111.6,1.8],[112.2,6.5],[112.6,2.6],[113.1,1.8],[113.7,1.15],[114.1,0.6],[114.4,1.3],[114.9,0.6],[115.3,1.15],[115.8,0.5],[116.2,1.0],[116.7,0.4],[117.2,0.8],[117.6,0.3],[118.1,0.6],[118.6,0.3],[119.0,0.8],[119.5,0.4],[119.9,0.8],[120.3,0.5],[120.8,1.3],[121.5,1.4],[121.9,1.8],[122.8,2.05],[123.4,1.5],[123.8,0.9],[124.2,1.5],[124.9,1.3],[125.8,2.05],[126.6,1.5],[127.5,2.65],[128.1,1.8],[128.5,0.9],[128.8,1.0],[129.3,0.5],[129.7,0.8],[130.2,0.4],[130.6,0.9],[131.2,0.4],[131.7,0.8],[132.2,0.3],[132.6,0.6],[133.0,0.3],[133.4,0.5]];
const d_accBlue = [[14.9,0.0],[18.0,0.0],[18.5,0.8],[19.0,1.2],[19.5,0.6],[20.0,1.3],[20.6,0.0],[25.5,0.0],[26.0,1.3],[26.6,0.8],[27.0,1.5],[27.6,0.0],[28.7,0.0],[29.2,1.3],[29.8,0.6],[30.4,1.4],[31.0,0.5],[31.6,1.3],[32.2,0.3],[32.8,1.2],[33.4,0.6],[34.0,1.0],[34.6,0.0],[38.5,0.0],[39.0,0.9],[39.5,0.3],[40.0,1.0],[40.6,0.2],[41.2,0.6],[41.8,0.0],[45.5,0.0],[46.1,1.7],[46.7,0.4],[47.3,1.6],[48.1,1.9],[48.8,1.2],[49.4,0.0],[50.3,0.0],[50.8,0.8],[51.3,0.0],[57.0,0.0],[57.6,1.6],[58.2,0.2],[58.7,0.9],[59.2,0.0],[61.2,0.0],[61.8,3.95],[62.4,2.0],[62.9,0.5],[63.5,4.2],[63.9,2.5],[64.5,2.8],[65.0,0.6],[65.6,0.3],[66.2,3.6],[66.7,5.5],[67.1,6.8],[67.6,4.6],[68.2,5.8],[68.7,3.5],[69.3,0.4],[70.0,0.0],[71.4,0.0],[72.1,0.8],[72.8,0.2],[73.6,0.9],[74.3,0.6],[75.3,2.6],[75.9,2.0],[76.6,0.6],[77.5,0.0],[78.4,0.0],[79.3,3.8],[79.9,1.8],[80.5,4.2],[81.0,5.0],[81.5,2.0],[82.0,0.2],[82.7,0.5],[83.6,1.0],[84.4,0.8],[85.0,2.3],[85.6,0.6],[86.4,0.9],[87.3,1.3],[88.2,0.2],[89.1,0.0],[108.0,0.0],[108.9,0.5],[109.7,3.8],[110.3,2.5],[111.0,0.6],[111.6,1.4],[112.2,4.9],[112.6,2.0],[113.1,1.0],[113.7,0.2],[114.4,0.0],[120.0,0.0],[120.8,0.8],[121.5,1.0],[121.9,0.5],[122.8,1.3],[123.4,0.6],[124.2,1.0],[124.9,1.2],[125.8,1.5],[126.6,1.0],[127.5,2.0],[128.1,1.0],[128.8,0.2],[129.7,0.0],[133.4,0.0]];

// ---------- Outdoor-4 ----------
const e_spdRed = [[0,0],[0.5,0.5],[0.97,1.04],[1.38,0.5],[1.74,0.1],[2.4,0.03],[2.9,0.15],[3.7,0.1],[4.2,0.23],[4.7,0.06],[5.47,0.03],[5.98,0.9],[6.5,3.1],[7.0,4.0],[7.5,3.95],[8.0,4.05],[8.8,4.35],[9.3,4.6],[9.8,4.5],[10.3,5.4],[10.7,6.3],[11.2,6.85],[11.6,6.4],[12.0,3.6],[12.4,1.5],[12.6,0.8],[13.1,0.85],[13.6,0.95],[14.2,0.65],[14.7,0.2],[15.2,0.15],[16.0,0.2],[16.7,0.1],[17.5,0.3],[18.0,0.4],[18.5,0.2],[19.0,0.15],[19.5,0.9],[20.0,1.7],[20.5,2.0],[21.05,3.15],[21.8,3.45],[22.4,4.1],[23.05,4.55],[23.6,4.2],[24.4,4.1],[24.8,3.45],[25.3,2.0],[25.9,0.65],[26.5,0.25],[27.2,0.45],[27.7,0.4],[28.2,0.15],[29.0,0.1],[29.8,0.06],[30.25,0.2],[30.8,2.0],[31.3,4.1],[31.8,5.75],[32.2,6.45],[32.55,5.9],[32.95,4.1],[33.4,2.0],[33.8,1.35],[34.2,0.9],[34.6,0.55],[35.0,2.2],[35.4,4.1],[35.9,5.9],[36.4,6.95],[36.8,6.55],[37.15,5.25],[37.7,3.15],[38.2,1.2],[38.6,0.45],[38.9,0.55],[39.5,0.23],[40.2,0.06],[41.0,0.1],[41.7,0.23],[42.5,0.55],[43.3,0.55],[44.0,0.63],[44.5,0.85],[45.1,2.0],[45.6,3.6],[46.1,6.2],[46.6,6.5],[47.3,6.85],[47.9,6.95],[48.4,6.85],[48.8,5.4],[49.2,2.8],[49.7,1.05],[50.2,0.45],[50.7,0.55],[51.2,0.45],[51.7,0.3],[52.5,0.15],[53.2,0.06],[53.9,0.1],[54.5,1.35],[55.0,3.45],[55.5,6.15],[56.2,6.7],[56.7,6.45],[57.3,7.2],[58.1,7.05],[58.6,5.75],[59.0,3.15],[59.4,1.2],[59.7,0.4],[60.1,0.63],[60.65,1.5],[61.2,1.65],[61.7,1.3],[62.2,0.55],[62.6,0.23],[63.05,0.3]];
const e_spdBlue = [[0,0],[0.5,0.5],[0.97,1.0],[1.38,0.45],[1.74,0.05],[2.2,0.0],[5.47,0.0],[5.98,0.8],[6.5,3.0],[7.0,3.9],[7.5,3.85],[8.0,4.0],[8.8,4.3],[9.3,4.5],[9.8,4.5],[10.3,5.3],[10.7,6.2],[11.2,6.75],[11.6,6.3],[12.0,3.8],[12.4,1.3],[12.6,0.6],[13.1,0.75],[13.6,0.9],[14.2,0.5],[14.7,0.05],[15.2,0.0],[19.0,0.0],[19.5,0.9],[20.0,1.6],[20.5,2.0],[21.05,3.1],[21.8,3.45],[22.4,4.0],[23.05,4.45],[23.6,4.2],[24.4,4.0],[24.8,3.4],[25.3,2.0],[25.9,0.5],[26.5,0.05],[27.0,0.0],[30.25,0.0],[30.8,1.8],[31.3,4.0],[31.8,5.75],[32.2,6.4],[32.55,5.8],[32.95,3.8],[33.3,1.8],[33.5,1.35],[33.8,1.2],[34.2,0.6],[34.45,0.35],[35.0,2.1],[35.4,4.0],[35.9,5.9],[36.4,6.9],[36.8,6.5],[37.15,5.2],[37.7,3.1],[38.2,1.0],[38.6,0.1],[39.0,0.0],[41.6,0.0],[42.0,0.4],[42.5,0.5],[43.3,0.5],[44.0,0.6],[44.5,0.8],[45.1,2.0],[45.6,3.6],[46.1,6.1],[46.6,6.5],[47.3,6.8],[47.9,6.9],[48.4,6.8],[48.8,5.3],[49.2,2.6],[49.7,0.9],[50.2,0.1],[50.6,0.0],[54.0,0.0],[54.5,1.3],[55.0,3.4],[55.5,6.1],[56.2,6.6],[56.7,6.4],[57.3,7.0],[58.1,7.0],[58.6,5.6],[59.0,3.0],[59.4,1.0],[59.7,0.05],[60.1,0.3],[60.65,1.45],[61.2,1.55],[61.7,1.2],[62.2,0.4],[62.6,0.2],[63.05,0.25]];
const e_accRed = [[0,0.25],[0.36,1.4],[0.66,2.2],[0.97,1.4],[1.28,1.7],[1.64,0.7],[2.0,0.55],[2.4,0.7],[2.9,0.6],[3.4,0.65],[3.9,0.9],[4.35,0.55],[4.7,0.7],[5.2,0.5],[5.5,0.4],[5.9,2.0],[6.2,4.6],[6.6,3.0],[6.9,1.05],[7.3,0.08],[7.77,0.7],[8.3,1.2],[8.8,2.0],[9.3,1.8],[9.65,2.65],[10.2,4.6],[10.6,3.5],[11.0,1.7],[11.35,3.0],[11.8,10.0],[12.1,4.6],[12.5,2.0],[12.9,4.85],[13.2,2.7],[13.6,1.4],[14.05,0.7],[14.4,1.4],[14.8,0.08],[15.2,0.7],[15.7,2.0],[16.2,1.05],[16.7,2.0],[17.1,1.05],[17.6,2.85],[18.0,1.05],[18.5,1.4],[19.0,1.05],[19.65,3.3],[20.0,1.4],[20.4,0.6],[20.8,2.7],[21.3,2.0],[21.8,1.55],[22.4,2.5],[22.8,1.8],[23.2,0.7],[23.8,1.4],[24.6,3.0],[25.1,4.0],[25.5,5.25],[25.9,2.0],[26.4,0.7],[26.9,1.05],[27.4,1.4],[27.9,0.9],[28.5,1.05],[29.0,0.7],[29.5,0.9],[30.0,0.4],[30.5,1.4],[31.0,6.2],[31.4,4.9],[31.8,3.5],[32.3,2.3],[32.8,6.05],[33.1,4.6],[33.4,6.4],[33.8,2.7],[34.3,1.4],[34.7,2.0],[35.2,8.65],[35.6,5.4],[36.0,4.6],[36.4,3.3],[36.8,4.1],[37.0,6.1],[37.4,7.0],[37.8,4.3],[38.2,2.4],[38.7,1.4],[39.2,0.7],[39.7,1.05],[40.2,0.55],[40.7,0.7],[41.2,0.55],[41.7,0.7],[42.2,0.4],[42.8,1.55],[43.1,0.7],[43.5,0.55],[44.0,0.9],[44.6,2.0],[45.1,3.65],[45.7,5.1],[46.2,3.3],[46.75,1.85],[47.1,1.05],[47.6,0.7],[48.1,0.08],[48.5,2.2],[48.9,10.0],[49.3,5.75],[49.7,3.95],[50.0,1.4],[50.4,1.05],[50.9,0.7],[51.4,0.9],[51.9,0.7],[52.4,1.05],[53.1,1.55],[53.5,0.7],[54.0,0.55],[54.4,1.4],[54.8,8.1],[55.1,4.9],[55.5,5.2],[55.9,3.65],[56.3,4.3],[56.7,2.65],[57.2,1.05],[57.5,0.55],[57.8,3.0],[58.2,9.7],[58.5,7.85],[58.9,5.25],[59.2,2.65],[59.6,1.7],[59.9,2.0],[60.3,1.85],[60.7,1.05],[61.2,0.4],[61.6,1.4],[61.9,2.5],[62.3,1.2],[62.7,1.4],[63.0,0.4]];
const e_accBlue = [[0,0.0],[0.5,1.8],[0.8,0.2],[1.4,2.1],[1.9,0.0],[5.5,0.0],[6.2,3.9],[6.9,0.5],[7.4,0.0],[7.8,0.4],[8.5,1.0],[9.3,0.8],[9.7,1.5],[10.3,3.6],[10.8,2.5],[11.3,1.5],[11.8,7.1],[12.2,3.0],[12.8,0.5],[13.4,0.0],[14.0,0.8],[14.5,0.2],[15.0,0.0],[19.0,0.0],[19.6,2.0],[20.2,0.8],[21.0,1.8],[21.6,1.5],[22.5,2.4],[23.2,0.8],[24.0,1.2],[24.6,2.5],[25.3,3.8],[25.8,2.2],[26.4,0.3],[27.0,0.0],[30.3,0.0],[30.7,2.5],[31.0,5.0],[31.5,4.6],[32.0,3.5],[32.6,4.0],[33.3,5.8],[33.8,4.0],[34.2,1.0],[34.6,2.0],[35.2,6.9],[35.6,5.0],[36.2,4.3],[36.6,2.4],[37.1,5.5],[37.6,5.9],[38.1,2.5],[38.7,0.1],[39.0,0.0],[44.3,0.0],[44.7,1.5],[45.3,3.5],[45.7,4.6],[46.3,2.5],[46.8,2.1],[47.3,0.5],[47.7,0.0],[48.2,2.0],[48.9,8.3],[49.4,4.0],[49.9,1.0],[50.3,0.0],[54.0,0.0],[54.5,2.0],[54.8,6.9],[55.3,4.5],[55.8,4.0],[56.3,3.9],[56.8,0.8],[57.1,0.0],[57.5,1.0],[58.2,7.2],[58.8,6.0],[59.3,2.0],[59.8,0.5],[60.3,1.6],[60.8,1.2],[61.2,0.0],[61.6,0.2],[62.2,1.7],[62.7,1.0],[63.0,0.2]];

// ---------- Outdoor-5 ----------
const f_spdRed = [[1.82,0.1],[2.0,0.16],[2.2,0.06],[2.55,0.06],[2.92,0.1],[3.19,0.15],[3.38,0.7],[3.56,2.2],[3.74,3.8],[4.01,6.2],[4.29,8.15],[4.56,9.3],[4.93,9.8],[5.29,9.87],[5.66,9.8],[5.93,9.45],[6.2,8.8],[6.48,7.5],[6.75,6.05],[7.03,4.75],[7.3,3.45],[7.57,2.35],[7.85,1.2],[8.12,0.4],[8.3,0.15],[8.58,0.3],[8.85,0.8],[9.22,1.35],[9.58,1.6],[9.85,1.45],[10.13,0.95],[10.4,0.47],[10.77,0.3],[11.13,0.28],[11.5,0.39],[11.86,0.3],[12.2,0.3],[12.6,0.47],[12.86,0.28],[13.18,0.15],[13.4,0.47],[13.69,1.7],[13.96,2.8],[14.23,3.8],[14.5,4.35],[14.78,4.3],[15.05,3.8],[15.33,2.8],[15.6,1.7],[15.88,0.87],[16.15,0.42],[16.5,0.47],[16.8,0.47],[17.06,0.7],[17.34,1.0],[17.6,0.8],[17.88,0.58],[18.25,0.58],[18.5,0.39],[18.7,0.03],[18.98,0.87],[19.34,2.2],[19.7,2.8],[20.07,2.9],[20.35,3.15],[20.6,3.2],[20.9,2.8],[21.17,2.2],[21.44,1.2],[21.72,0.58],[22.08,0.42],[22.45,0.36],[22.63,0.55],[22.9,0.55],[23.18,0.87],[23.54,1.2],[23.9,1.4],[24.27,1.47],[24.64,1.5],[25.0,1.52]];
const f_spdBlue = [[1.82,0.0],[3.1,0.0],[3.38,0.6],[3.56,2.0],[3.74,3.7],[4.01,6.2],[4.29,8.2],[4.56,9.4],[4.93,9.85],[5.29,9.9],[5.66,9.85],[5.93,9.4],[6.2,8.6],[6.48,7.2],[6.75,5.7],[7.03,4.3],[7.3,3.0],[7.57,1.9],[7.85,0.9],[8.12,0.2],[8.3,0.02],[8.58,0.2],[8.85,0.7],[9.22,1.3],[9.58,1.55],[9.85,1.4],[10.13,0.8],[10.4,0.3],[10.6,0.05],[10.9,0.0],[12.86,0.0],[13.18,0.05],[13.4,0.4],[13.69,1.6],[13.96,2.7],[14.23,3.7],[14.5,4.3],[14.78,4.2],[15.05,3.6],[15.33,2.5],[15.6,1.3],[15.88,0.4],[16.1,0.03],[16.5,0.0],[18.25,0.05],[18.5,0.3],[18.8,1.2],[19.1,2.0],[19.4,2.7],[19.7,3.15],[20.07,3.35],[20.4,3.35],[20.7,3.3],[20.95,2.9],[21.17,2.3],[21.44,1.3],[21.72,0.6],[22.0,0.1],[22.2,0.02],[22.8,0.05],[23.0,0.3],[23.2,0.6],[23.54,1.1],[23.9,1.45],[24.27,1.5],[24.64,1.5],[25.0,1.5]];
const f_accRed = [[1.17,0.97],[1.28,0.4],[1.37,1.37],[1.46,0.08],[1.6,0.8],[1.73,0.7],[1.86,0.97],[2.0,0.55],[2.15,0.9],[2.28,0.4],[2.4,0.55],[2.55,0.25],[2.74,0.08],[2.92,0.32],[3.07,0.08],[3.19,1.37],[3.32,3.3],[3.47,4.95],[3.65,6.2],[3.83,7.1],[3.98,7.75],[4.16,7.6],[4.34,7.35],[4.56,6.4],[4.71,5.6],[4.84,3.3],[5.02,1.85],[5.16,1.45],[5.29,3.0],[5.47,4.8],[5.62,4.3],[5.75,3.3],[5.93,1.95],[6.06,4.0],[6.2,6.2],[6.35,8.25],[6.48,8.2],[6.57,7.0],[6.72,9.3],[6.84,6.8],[6.93,5.8],[7.08,5.9],[7.21,5.1],[7.34,5.4],[7.48,4.6],[7.61,3.15],[7.72,3.1],[7.85,2.35],[7.99,1.4],[8.12,0.55],[8.25,0.73],[8.4,0.9],[8.58,1.2],[8.76,1.85],[8.94,1.55],[9.12,1.7],[9.31,1.45],[9.45,1.37],[9.58,0.9],[9.7,0.4],[9.85,0.5],[10.0,1.37],[10.13,1.85],[10.26,1.6],[10.44,2.1],[10.58,1.85],[10.77,1.05],[10.95,0.4],[11.13,0.9],[11.31,1.85],[11.46,1.05],[11.59,1.37],[11.7,2.5],[11.83,1.05],[11.95,1.37],[12.04,2.0],[12.19,0.73],[12.32,1.05],[12.5,0.55],[12.6,0.25],[12.74,1.05],[12.86,1.3],[12.99,0.25],[13.1,0.73],[13.23,2.0],[13.36,3.3],[13.5,4.3],[13.69,4.7],[13.87,4.6],[14.05,4.3],[14.23,3.0],[14.38,5.4],[14.47,3.8],[14.56,0.73],[14.69,1.37],[14.87,2.0],[15.0,2.0],[15.15,4.3],[15.33,5.1],[15.46,5.75],[15.57,5.1],[15.7,4.6],[15.84,2.0],[15.97,2.1],[16.15,3.3],[16.28,3.65],[16.4,2.0],[16.6,1.13],[16.74,2.0],[16.86,1.45],[17.0,4.6],[17.15,2.0],[17.3,0.97],[17.43,1.37],[17.61,1.2],[17.8,1.37],[17.96,1.13],[18.16,0.9],[18.28,0.73],[18.43,1.45],[18.6,2.65],[18.8,3.5],[18.98,3.15],[19.25,3.25],[19.43,2.5],[19.6,2.35],[19.8,1.37],[20.0,1.55],[20.16,2.2],[20.35,2.35],[20.47,1.37],[20.62,0.32],[20.8,2.0],[21.0,3.0],[21.17,3.15],[21.35,3.55],[21.5,3.0],[21.62,2.0],[21.8,1.85],[21.99,2.0],[22.12,1.2],[22.26,1.37],[22.4,2.1],[22.6,2.65],[22.7,1.7],[22.9,1.37],[23.08,2.65],[23.23,2.0],[23.36,1.55],[23.54,1.37],[23.72,1.55],[23.9,1.13],[24.09,0.73],[24.23,1.05],[24.36,0.57],[24.5,1.05],[24.64,0.57],[24.8,0.4],[25.0,0.97]];
const f_accBlue = [[1.8,0.0],[2.8,0.0],[3.0,0.4],[3.2,1.3],[3.5,4.5],[3.8,6.8],[4.05,7.7],[4.3,7.3],[4.6,6.0],[4.85,3.5],[5.1,1.4],[5.3,2.5],[5.5,4.1],[5.75,3.3],[5.95,2.0],[6.2,5.0],[6.5,7.8],[6.8,6.5],[7.2,5.0],[7.6,3.6],[8.0,1.8],[8.3,0.5],[8.6,0.8],[8.9,1.5],[9.2,1.5],[9.5,1.0],[9.75,0.0],[10.0,0.5],[10.4,1.65],[10.8,1.0],[11.1,0.2],[11.3,0.0],[12.8,0.0],[13.1,1.0],[13.4,3.8],[13.7,4.7],[14.0,3.5],[14.3,1.5],[14.5,1.3],[14.9,2.5],[15.3,4.0],[15.5,4.6],[15.8,3.0],[16.1,1.5],[16.4,0.3],[16.6,0.0],[18.0,0.0],[18.4,1.3],[18.8,2.5],[19.0,2.9],[19.4,2.3],[19.7,1.2],[20.0,0.4],[20.3,0.0],[20.6,0.2],[20.9,1.5],[21.2,3.0],[21.4,3.3],[21.7,2.0],[22.1,0.8],[22.4,0.0],[22.7,0.3],[23.0,1.3],[23.3,1.6],[23.7,1.3],[24.1,0.6],[24.5,0.1],[25.0,0.0]];

// ---------- tick values ----------
const a_xticks = [20, 30, 40, 50, 60, 70, 80];
const b_xticks = [20, 40, 60, 80, 100, 120, 140];
const c_xticks = [50, 100, 150];
const d_xticks = [20, 40, 60, 80, 100, 120];
const e_xticks = [0, 10, 20, 30, 40, 50, 60, 70];
const f_xticks = [0, 5, 10, 15, 20, 25];
const spdTicks_ab = [0, 5];
const spdTicks_cd = [0, 2, 4];
const accTicks_ad = [0, 5];
const ticks_ef = [0, 2, 4, 6, 8, 10];

// ---------- layout ----------
const FONT = "'Liberation Serif','Times New Roman',serif";
const rows = [
  {title: 51, sTop: 59.6, sBot: 262, aTop: 296.6, aBot: 501.5, tick: 538, xlab: 577, cap: 662},
  {title: 714, sTop: 722, sBot: 926.6, aTop: 959, aBot: 1164, tick: 1200, xlab: 1239, cap: 1323},
  {title: 1376, sTop: 1382.5, sBot: 1589, aTop: 1622, aBot: 1828, tick: 1861, xlab: 1901, cap: 1990}
];

const panels = [
  {title: "Outdoor-2", cap: "(a)", row: 0, left: 90.6, right: 946, xdom: [11.78, 80.1], xticks: a_xticks,
   sMax: 6, aMax: 8, sTicks: spdTicks_ab, aTicks: accTicks_ad, int: a_int,
   sRed: a_spdRed, sBlue: a_spdBlue, aRed: a_accRed, aBlue: a_accBlue,
   ylabX: 52, capX: 491, legend: {x: 105, y: 71.6, w: 218, h: 44}, classic: false},
  {title: "Outdoor-3", cap: "(b)", row: 0, left: 1031.6, right: 1898.5, xdom: [18.92, 156.2], xticks: b_xticks,
   sMax: 6, aMax: 8, sTicks: spdTicks_ab, aTicks: accTicks_ad, int: b_int,
   sRed: b_spdRed, sBlue: b_spdBlue, aRed: b_accRed, aBlue: b_accBlue,
   ylabX: 991, capX: 1430, legend: {x: 1044.5, y: 71.6, w: 219.5, h: 44}, classic: false},
  {title: "Indoor-1", cap: "(c)", row: 1, left: 90.6, right: 958, xdom: [1.65, 183.3], xticks: c_xticks,
   sMax: 4, aMax: 8, sTicks: spdTicks_cd, aTicks: accTicks_ad, int: c_int,
   sRed: c_spdRed, sBlue: c_spdBlue, aRed: c_accRed, aBlue: c_accBlue,
   ylabX: 52, capX: 491, legend: {x: 105, y: 735, w: 218, h: 44}, classic: false},
  {title: "Indoor-2", cap: "(d)", row: 1, left: 1031.6, right: 1898.5, xdom: [9.12, 139.6], xticks: d_xticks,
   sMax: 4, aMax: 8, sTicks: spdTicks_cd, aTicks: accTicks_ad, int: d_int,
   sRed: d_spdRed, sBlue: d_spdBlue, aRed: d_accRed, aBlue: d_accBlue,
   ylabX: 991, capX: 1430, legend: {x: 1044.5, y: 735, w: 219.5, h: 44}, classic: false},
  {title: "Outdoor-4", cap: "(e)", row: 2, left: 106, right: 944.6, xdom: [0, 70], xticks: e_xticks,
   sMax: 10, aMax: 10, sTicks: ticks_ef, aTicks: ticks_ef, int: e_int,
   sRed: e_spdRed, sBlue: e_spdBlue, aRed: e_accRed, aBlue: e_accBlue,
   ylabX: 52, capX: 491, legend: {x: 118, y: 1395, w: 220.5, h: 45}, classic: true},
  {title: "Outdoor-5", cap: "(f)", row: 2, left: 1045.7, right: 1884.4, xdom: [0, 25], xticks: f_xticks,
   sMax: 10, aMax: 10, sTicks: ticks_ef, aTicks: ticks_ef, int: f_int,
   sRed: f_spdRed, sBlue: f_spdBlue, aRed: f_accRed, aBlue: f_accBlue,
   ylabX: 991, capX: 1430, legend: {x: 1651.8, y: 1395, w: 219.2, h: 45}, classic: true}
];

const svg = d3.select("#fig");
svg.append("rect").attr("width", 1920).attr("height", 2005).attr("fill", "#fff");

function clean(arr) {
  const s = arr.slice().sort((p, q) => p[0] - q[0]);
  return s.filter((d, i) => i === 0 || d[0] !== s[i - 1][0]);
}

function styleAxis(g, size, color) {
  g.attr("font-family", FONT).attr("font-size", size);
  g.select(".domain").remove();
  g.selectAll(".tick line").attr("stroke", color).attr("stroke-width", 1.5);
  g.selectAll(".tick text").attr("fill", "#000");
}

function drawSub(p, pi, k, x) {
  const r = rows[p.row];
  const top = k === 0 ? r.sTop : r.aTop;
  const bot = k === 0 ? r.sBot : r.aBot;
  const ymax = k === 0 ? p.sMax : p.aMax;
  const ticks = k === 0 ? p.sTicks : p.aTicks;
  const red = clean(k === 0 ? p.sRed : p.aRed);
  const blue = clean(k === 0 ? p.sBlue : p.aBlue);
  const y = d3.scaleLinear().domain([0, ymax]).range([bot, top]);
  const spine = p.classic ? "#000" : "#2b2b2b";
  const tickFs = p.classic ? 32 : 30;

  const cid = "clip" + pi + "_" + k;
  svg.append("clipPath").attr("id", cid).append("rect")
    .attr("x", p.left).attr("y", top).attr("width", p.right - p.left).attr("height", bot - top);
  const g = svg.append("g").attr("clip-path", "url(#" + cid + ")");

  // horizontal grid
  const grid = ticks.filter(v => v > 0 && v < ymax);
  g.selectAll("line.grid").data(grid).join("line").attr("class", "grid")
    .attr("x1", p.left).attr("x2", p.right)
    .attr("y1", d => y(d)).attr("y2", d => y(d))
    .attr("stroke", p.classic ? "#555" : "#b0b0b0")
    .attr("stroke-width", p.classic ? 1.2 : 1.6)
    .attr("stroke-dasharray", p.classic ? "1.5,3.5" : null);

  // intervention spans
  g.selectAll("rect.iv").data(p.int).join("rect").attr("class", "iv")
    .attr("x", d => x(d[0]))
    .attr("width", d => Math.max(1.5, x(d[1]) - x(d[0])))
    .attr("y", top).attr("height", bot - top)
    .attr("fill", "orange").attr("fill-opacity", 0.8);

  const smooth = d3.line().x(d => x(d[0])).y(d => y(d[1])).curve(d3.curveMonotoneX);
  const sharp = d3.line().x(d => x(d[0])).y(d => y(d[1]));

  g.append("path").datum(red)
    .attr("d", k === 0 ? smooth : sharp)
    .attr("fill", "none").attr("stroke", "#ff0000").attr("stroke-width", 2.6)
    .attr("stroke-linejoin", "round");
  g.append("path").datum(blue)
    .attr("d", smooth)
    .attr("fill", "none").attr("stroke", "#0000ff").attr("stroke-width", 2.6)
    .attr("stroke-dasharray", "10,6");

  // axes
  const ya = svg.append("g").attr("transform", "translate(" + p.left + ",0)")
    .call(d3.axisLeft(y).tickValues(ticks).tickSize(p.classic ? -6 : 0)
      .tickPadding(p.classic ? 6 : 8).tickFormat(d3.format("d")));
  styleAxis(ya, tickFs, spine);

  const xa = svg.append("g").attr("transform", "translate(0," + bot + ")")
    .call(d3.axisBottom(x).tickValues(p.xticks).tickSize(p.classic ? -6 : 5)
      .tickFormat(k === 1 ? d3.format("d") : () => ""));
  styleAxis(xa, tickFs, spine);
  xa.selectAll(".tick text").attr("y", r.tick - bot).attr("dy", 0);

  if (p.classic) {
    const xt = svg.append("g").attr("transform", "translate(0," + top + ")")
      .call(d3.axisTop(x).tickValues(p.xticks).tickSize(-6).tickFormat(() => ""));
    styleAxis(xt, tickFs, spine);
    const yr = svg.append("g").attr("transform", "translate(" + p.right + ",0)")
      .call(d3.axisRight(y).tickValues(ticks).tickSize(-6).tickFormat(() => ""));
    styleAxis(yr, tickFs, spine);
  }

  svg.append("rect").attr("x", p.left).attr("y", top)
    .attr("width", p.right - p.left).attr("height", bot - top)
    .attr("fill", "none").attr("stroke", spine).attr("stroke-width", 1.8);

  // y label
  const yl = svg.append("text")
    .attr("transform", "translate(" + p.ylabX + "," + ((top + bot) / 2) + ") rotate(-90)")
    .attr("text-anchor", "middle").attr("font-family", FONT).attr("font-size", 36).attr("fill", "#000");
  if (k === 0) {
    yl.append("tspan").attr("font-weight", "bold").attr("letter-spacing", 2.5).text("Speed");
    yl.append("tspan").attr("dx", 10).attr("letter-spacing", 1).text("(m/s)");
  } else {
    yl.append("tspan").attr("font-weight", "bold").attr("letter-spacing", 2.5).text("Accel.");
    yl.append("tspan").attr("dx", 18).attr("letter-spacing", 1).text("(m/s");
    yl.append("tspan").attr("font-size", 25).attr("dy", -13).text("2");
    yl.append("tspan").attr("dy", 13).text(")");
  }
}

function drawLegend(p) {
  const L = p.legend;
  svg.append("rect").attr("x", L.x).attr("y", L.y).attr("width", L.w).attr("height", L.h)
    .attr("rx", p.classic ? 0 : 5)
    .attr("fill", "#fff").attr("fill-opacity", p.classic ? 1 : 0.8)
    .attr("stroke", p.classic ? "#000" : "#cccccc").attr("stroke-width", 1.5);
  svg.append("rect").attr("x", L.x + 9.5).attr("y", L.y + L.h / 2 - 9.5)
    .attr("width", 53).attr("height", 19)
    .attr("fill", "orange").attr("fill-opacity", 0.8);
  svg.append("text").attr("x", L.x + 83.5).attr("y", L.y + L.h / 2 + 8.5)
    .attr("font-family", FONT).attr("font-size", 25).attr("letter-spacing", 0.4)
    .attr("fill", "#000").text("Intervention");
}

panels.forEach((p, pi) => {
  const r = rows[p.row];
  const x = d3.scaleLinear().domain(p.xdom).range([p.left, p.right]);
  drawSub(p, pi, 0, x);
  drawSub(p, pi, 1, x);
  drawLegend(p);

  const cx = (p.left + p.right) / 2;
  svg.append("text").attr("x", cx).attr("y", r.title).attr("text-anchor", "middle")
    .attr("font-family", FONT).attr("font-size", 43).attr("font-weight", "bold")
    .attr("letter-spacing", 3).attr("fill", "#000").text(p.title);

  const xl = svg.append("text").attr("x", cx).attr("y", r.xlab).attr("text-anchor", "middle")
    .attr("font-family", FONT).attr("font-size", 34).attr("fill", "#000");
  xl.append("tspan").attr("font-weight", "bold").attr("letter-spacing", 2.5).text("Time");
  xl.append("tspan").attr("dx", 9).attr("letter-spacing", 1.5).text("(s)");

  svg.append("text").attr("x", p.capX).attr("y", r.cap).attr("text-anchor", "middle")
    .attr("font-family", FONT).attr("font-size", 40).attr("fill", "#000").text(p.cap);
});
</script>
</body>
</html>
